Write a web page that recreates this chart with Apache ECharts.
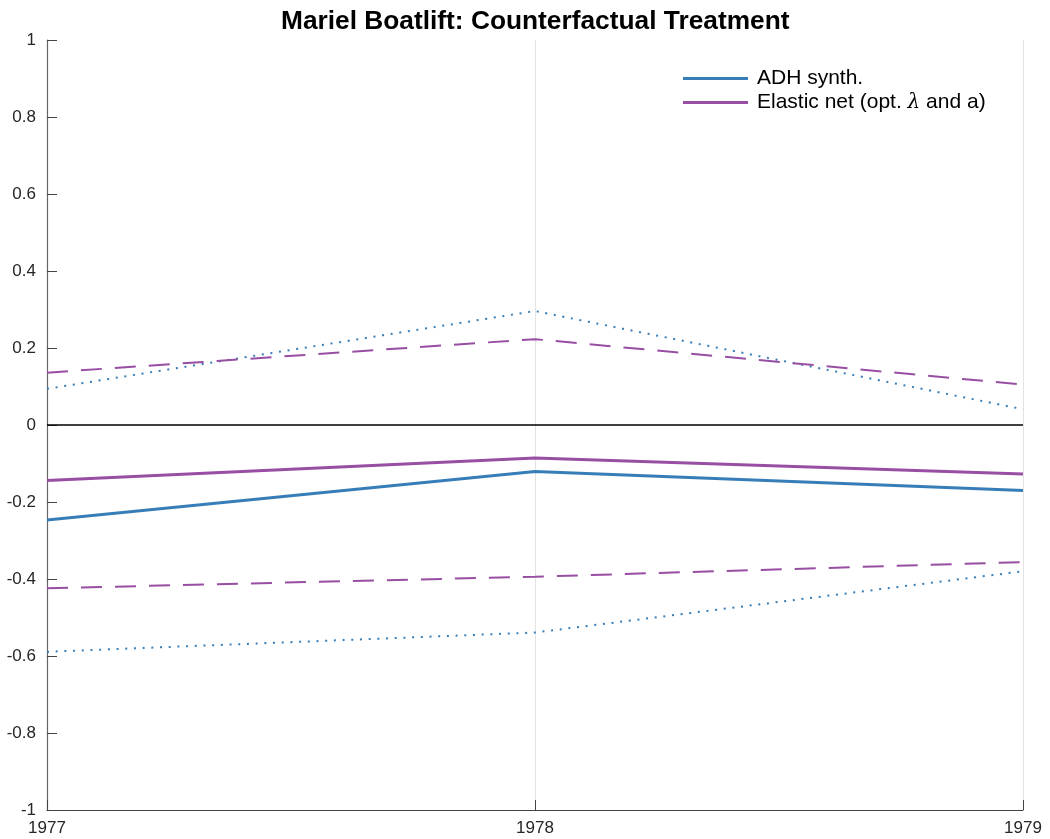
<!DOCTYPE html>
<html>
<head>
<meta charset="utf-8">
<script src="https://cdn.jsdelivr.net/npm/echarts@6/dist/echarts.min.js"></script>
<style>
html,body{margin:0;padding:0;background:#fff;}
#chart{width:1050px;height:839px;}
</style>
</head>
<body>
<div id="chart"></div>
<script>
const years = ['1977', '1978', '1979'];
const adhSynth = [-0.247, -0.121, -0.170];
const adhUpper = [0.094, 0.296, 0.041];
const adhLower = [-0.589, -0.539, -0.380];
const elasticNet = [-0.144, -0.086, -0.127];
const elasticUpper = [0.136, 0.223, 0.105];
const elasticLower = [-0.424, -0.394, -0.356];
const legendNames = ['ADH synth.', 'Elastic net (opt. λ and a)'];

const BLUE = '#377eb8';
const PURPLE = '#984ea3';
const FONT = '"Liberation Sans", Arial, Helvetica, sans-serif';

const chart = echarts.init(document.getElementById('chart'));
chart.setOption({
  animation: false,
  backgroundColor: '#fff',
  title: {
    text: 'Mariel Boatlift: Counterfactual Treatment',
    left: 276,
    top: 4,
    textStyle: { fontFamily: FONT, fontSize: 26.3, fontWeight: 'bold', color: '#000' }
  },
  legend: {
    data: [
      { name: legendNames[0], icon: 'rect' },
      { name: legendNames[1], icon: 'rect' }
    ],
    left: 678,
    top: 63,
    orient: 'vertical',
    itemWidth: 65,
    itemHeight: 3,
    itemGap: 3,
    textStyle: {
      fontFamily: FONT, fontSize: 21, color: '#000',
      rich: {
        f: { fontFamily: FONT, fontSize: 21, lineHeight: 21, color: '#000', padding: [0, 0, 0, 4] },
        n: { fontFamily: FONT, fontSize: 21, lineHeight: 21, color: '#000' },
        l: { fontFamily: '"DejaVu Serif", "Liberation Serif", serif', fontStyle: 'italic', fontSize: 20, lineHeight: 21, color: '#000' }
      }
    },
    formatter: function (name) {
      if (name === legendNames[1]) {
        return '{f|Elastic net (opt. }{l|λ}{n| and a)}';
      }
      return '{f|' + name + '}';
    }
  },
  grid: { left: 47, right: 27, top: 40, bottom: 29, containLabel: false },
  xAxis: {
    type: 'category',
    data: years,
    boundaryGap: false,
    axisLine: { onZero: false, lineStyle: { color: '#444', width: 1.2 } },
    axisTick: { show: true, inside: true, length: 10, alignWithLabel: true, lineStyle: { color: '#444' } },
    axisLabel: { fontFamily: FONT, fontSize: 17, color: '#262626', margin: 10 },
    splitLine: { show: true, lineStyle: { color: '#e3e3e3', width: 1 } }
  },
  yAxis: {
    type: 'value',
    min: -1,
    max: 1,
    interval: 0.2,
    axisLine: { show: true, onZero: false, lineStyle: { color: '#666', width: 1.2 } },
    axisTick: { show: true, inside: true, length: 10, lineStyle: { color: '#444' } },
    axisLabel: {
      fontFamily: FONT, fontSize: 17, color: '#262626', margin: 11,
      formatter: function (v) { return String(Math.round(v * 10) / 10); }
    },
    splitLine: { show: false }
  },
  series: [
    {
      name: legendNames[0], type: 'line', data: adhSynth, symbol: 'none',
      lineStyle: { color: BLUE, width: 3 }, itemStyle: { color: BLUE }, z: 5,
      markLine: {
        silent: true, symbol: 'none', label: { show: false },
        lineStyle: { color: '#000', width: 1.5, type: 'solid' },
        data: [{ yAxis: 0 }]
      }
    },
    {
      name: legendNames[1], type: 'line', data: elasticNet, symbol: 'none',
      lineStyle: { color: PURPLE, width: 3 }, itemStyle: { color: PURPLE }, z: 5
    },
    {
      name: 'ADH upper', type: 'line', data: adhUpper, symbol: 'none',
      lineStyle: { color: BLUE, width: 2, type: [2, 6.7] }, itemStyle: { color: BLUE }
    },
    {
      name: 'ADH lower', type: 'line', data: adhLower, symbol: 'none',
      lineStyle: { color: BLUE, width: 2, type: [2, 6.7] }, itemStyle: { color: BLUE }
    },
    {
      name: 'Elastic upper', type: 'line', data: elasticUpper, symbol: 'none',
      lineStyle: { color: PURPLE, width: 2, type: [21, 13] }, itemStyle: { color: PURPLE }
    },
    {
      name: 'Elastic lower', type: 'line', data: elasticLower, symbol: 'none',
      lineStyle: { color: PURPLE, width: 2, type: [21, 13] }, itemStyle: { color: PURPLE }
    }
  ]
});
</script>
</body>
</html>
